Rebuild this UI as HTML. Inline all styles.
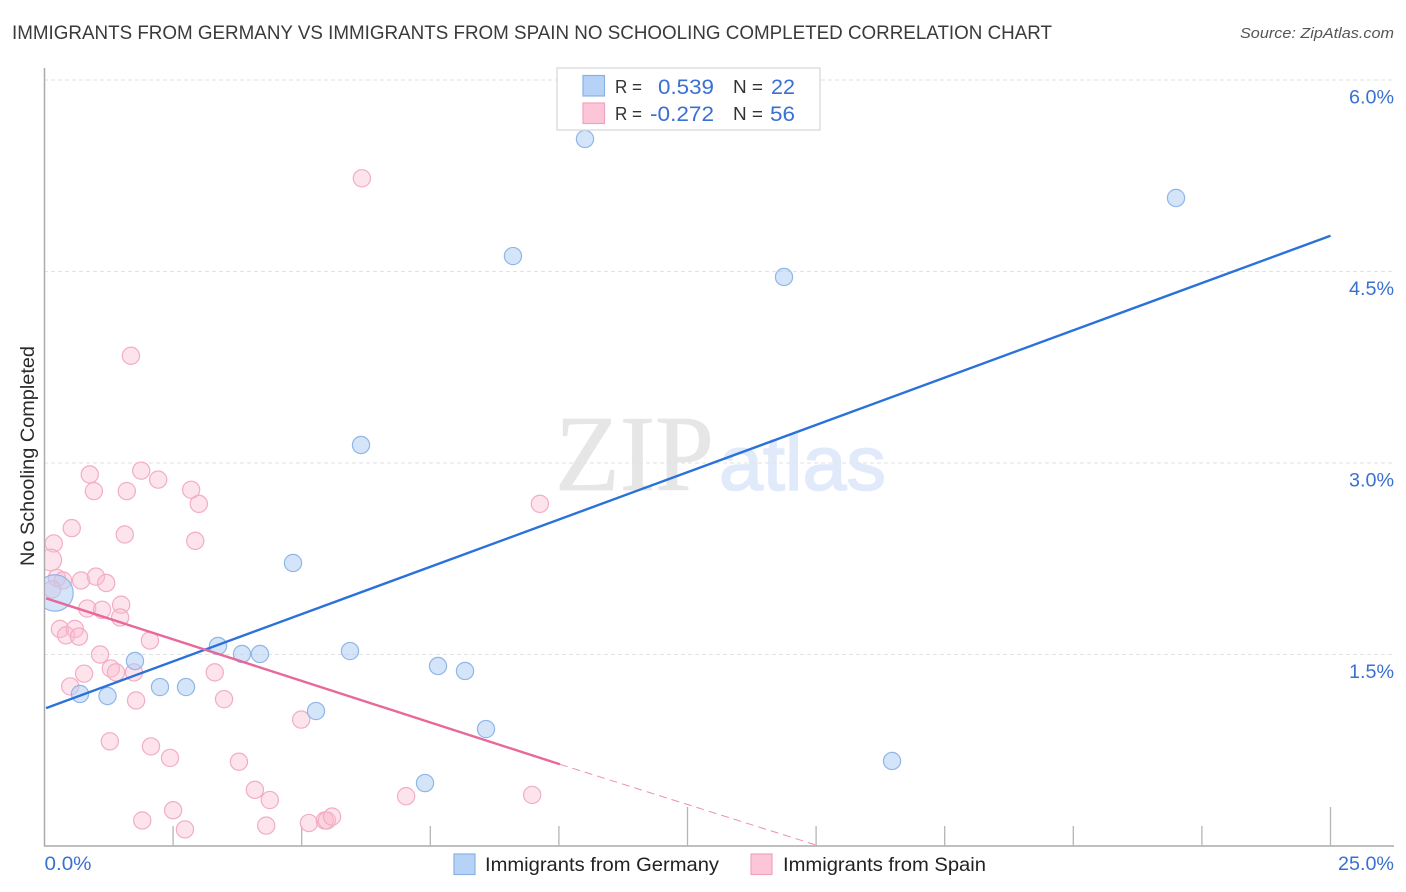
<!DOCTYPE html>
<html lang="en">
<head>
<meta charset="utf-8">
<title>Immigrants from Germany vs Immigrants from Spain No Schooling Completed Correlation Chart</title>
<style>
html,body{margin:0;padding:0;background:#fff;}
body{width:1406px;height:892px;overflow:hidden;}
svg{display:block;font-family:"Liberation Sans",sans-serif;}
</style>
</head>
<body>
<svg id="chart" width="1406" height="892" viewBox="0 0 1406 892" xmlns="http://www.w3.org/2000/svg">
  <defs>
    <clipPath id="plot-clip"><rect x="45" y="60" width="1349" height="786"></rect></clipPath>
  </defs>
  <rect x="0" y="0" width="1406" height="892" fill="#ffffff"></rect>
  <text x="12" y="39" font-size="19" fill="#3a3a3a" textLength="1040" lengthAdjust="spacingAndGlyphs">IMMIGRANTS FROM GERMANY VS IMMIGRANTS FROM SPAIN NO SCHOOLING COMPLETED CORRELATION CHART</text>
  <text x="1394" y="38" font-size="15" font-style="italic" fill="#555555" text-anchor="end" textLength="154" lengthAdjust="spacingAndGlyphs">Source: ZipAtlas.com</text>
  <g id="watermark">
    <text x="555" y="490" font-family="'Liberation Serif',serif" font-size="108" fill="#e6e6e6" stroke="#e6e6e6" stroke-width="0.8" textLength="159" lengthAdjust="spacingAndGlyphs">ZIP</text>
    <text x="719" y="490" font-size="77" fill="#e1eafa" stroke="#e1eafa" stroke-width="1.6" textLength="167" lengthAdjust="spacingAndGlyphs">atlas</text>
  </g>
  <g id="grid"></g>
  <g id="axes"></g>
  <g id="points-spain" clip-path="url(#plot-clip)"></g>
  <g id="points-germany" clip-path="url(#plot-clip)"></g>
  <g id="trends"></g>
  <g id="y-labels"></g>
  <g id="x-labels"></g>
  <text transform="translate(34,456) rotate(-90)" font-size="19" fill="#2a2a2a" text-anchor="middle" textLength="220" lengthAdjust="spacingAndGlyphs">No Schooling Completed</text>

  <g>
    <rect x="557" y="68" width="263" height="62" fill="#ffffff" stroke="#dddddd" stroke-width="1.5"></rect>
    <rect x="583" y="75.5" width="21.5" height="20.5" fill="#b6d3f7" stroke="#88b2e6" stroke-width="1.2"></rect>
    <rect x="583" y="103" width="21.5" height="20.5" fill="#fcc6d8" stroke="#f0a3bd" stroke-width="1.2"></rect>
    <text x="615" y="93" font-size="18.5" fill="#333333" textLength="27" lengthAdjust="spacingAndGlyphs">R =</text>
    <text x="658" y="94" font-size="21.5" fill="#3a70d2" textLength="56" lengthAdjust="spacingAndGlyphs">0.539</text>
    <text x="733" y="93" font-size="18.5" fill="#333333" textLength="30" lengthAdjust="spacingAndGlyphs">N =</text>
    <text x="771" y="94" font-size="21.5" fill="#3a70d2" textLength="24" lengthAdjust="spacingAndGlyphs">22</text>
    <text x="615" y="120" font-size="18.5" fill="#333333" textLength="27" lengthAdjust="spacingAndGlyphs">R =</text>
    <text x="650" y="121" font-size="21.5" fill="#3a70d2" textLength="64" lengthAdjust="spacingAndGlyphs">-0.272</text>
    <text x="733" y="120" font-size="18.5" fill="#333333" textLength="30" lengthAdjust="spacingAndGlyphs">N =</text>
    <text x="770" y="121" font-size="21.5" fill="#3a70d2" textLength="25" lengthAdjust="spacingAndGlyphs">56</text>
  </g>

  <g>
    <rect x="454" y="854" width="21" height="20.5" fill="#b6d3f7" stroke="#88b2e6" stroke-width="1.2"></rect>
    <text x="485" y="871" font-size="19.5" fill="#222222" textLength="234" lengthAdjust="spacingAndGlyphs">Immigrants from Germany</text>
    <rect x="751" y="854" width="21" height="20.5" fill="#fcc6d8" stroke="#f0a3bd" stroke-width="1.2"></rect>
    <text x="783" y="871" font-size="19.5" fill="#222222" textLength="203" lengthAdjust="spacingAndGlyphs">Immigrants from Spain</text>
  </g>
</svg>
<script>
// Chart data (percent values)
const germanyX = [0.204,0.690,1.225,1.759,2.245,2.751,3.373,3.839,4.189,4.831,5.278,5.939,6.153,7.650,8.175,8.583,7.397,9.107,10.507,14.376,16.476,21.997];
const germanyY = [1.982,1.191,1.175,1.449,1.245,1.245,1.567,1.504,1.504,2.217,1.057,1.527,3.141,1.410,1.371,0.916,0.493,4.621,5.538,4.457,0.666,5.076];
const germanyWeight = [4,1,1,1,1,1,1,1,1,1,1,1,1,1,1,1,1,1,1,1,1,1];
const spainX = [3.00,0.53,0.18,1.56,2.93,0.12,0.24,0.36,0.71,1.00,1.20,0.15,0.83,1.12,1.49,1.47,0.30,0.42,0.59,0.67,2.05,1.08,0.77,0.50,1.29,1.39,1.74,3.31,3.49,1.78,1.27,2.07,2.44,3.78,4.09,4.38,2.50,1.90,2.73,4.31,6.17,1.68,0.88,1.88,0.96,1.60,2.21,2.85,9.63,4.99,5.14,5.45,5.49,5.59,7.03,9.48];
const spainY = [2.68,2.49,2.37,2.44,2.39,2.24,2.10,2.08,2.08,2.11,2.06,2.01,1.86,1.85,1.89,1.79,1.70,1.65,1.70,1.64,1.61,1.50,1.35,1.25,1.39,1.36,1.36,1.36,1.15,1.14,0.82,0.78,0.69,0.66,0.44,0.36,0.28,0.20,0.13,0.16,5.23,3.84,2.91,2.94,2.78,2.78,2.87,2.79,2.68,0.99,0.18,0.20,0.20,0.23,0.39,0.40];
const spainWeight = [1,1,1,1,1,1.6,1,1,1,1,1,1,1,1,1,1,1,1,1,1,1,1,1,1,1,1,1,1,1,1,1,1,1,1,1,1,1,1,1,1,1,1,1,1,1,1,1,1,1,1,1,1,1,1,1,1];
const germanyTrendX = [0.03,25];
const germanyTrendY = [1.08,4.78];
const spainTrendX = [0.03,10.02];
const spainTrendY = [1.94,0.64];
const spainTrendDashX = [10.02,14.98];
const spainTrendDashY = [0.64,0.01];
const yTicks = [1.5,3.0,4.5,6.0];
const yTickLabels = ["1.5%","3.0%","4.5%","6.0%"];
const xTicks = [2.5,5,7.5,10,12.5,15,17.5,20,22.5,25];
const xMajorTicks = [12.5,25];
const xEndValues = [0,25];
const xEndLabels = ["0.0%","25.0%"];

// Axis functions
function xScale(v){ return 44.5 + v * 51.44; }
function yScale(v){ return 846 - v * 127.67; }

const NS = 'http://www.w3.org/2000/svg';
function make(tag, parent, attrs, txt){
  const el = document.createElementNS(NS, tag);
  for (const k in attrs) el.setAttribute(k, attrs[k]);
  if (txt !== undefined) el.textContent = txt;
  document.getElementById(parent).appendChild(el);
  return el;
}

// Gridlines and right-hand labels
yTicks.forEach(function(t, i){
  const line = make('line', 'grid', {x1:44, x2:1394, y1:yScale(t), y2:yScale(t), stroke:'#e2e2e2', 'stroke-width':1, 'stroke-dasharray':'4 3'});
  
  
  const label = make('text', 'y-labels', {x:1349, y:yScale(t)+23.5, 'font-size':19.5, fill:'#3a70d2', textLength:45, lengthAdjust:'spacingAndGlyphs'}, yTickLabels[i]);
  
  
});

// Axes
const yAxis = make('line', 'axes', {x1:44.5, x2:44.5, y1:68, y2:846.5, stroke:'#aaaaaa', 'stroke-width':1.5});


const xAxis = make('line', 'axes', {x1:44, x2:1394, y1:846, y2:846, stroke:'#aaaaaa', 'stroke-width':1.5});


xTicks.forEach(function(t){
  const major = xMajorTicks.indexOf(t) >= 0;
  const tick = make('line', 'axes', {x1:xScale(t), x2:xScale(t), y1:major ? 807 : 826, y2:846, stroke:'#b5b5b5', 'stroke-width':1.3});
  
  
});
xEndValues.forEach(function(v, i){
  const label = make('text', 'x-labels', {x: i === 0 ? xScale(v) : 1338, y:870, 'font-size':19.5, fill:'#3a70d2', textLength: i === 0 ? 47 : 56, lengthAdjust:'spacingAndGlyphs'}, xEndLabels[i]);
  
  
});

// Points
spainX.forEach(function(v, i){
  const c = make('circle', 'points-spain', {cx:xScale(v), cy:yScale(spainY[i]), r:8.6 * Math.sqrt(spainWeight[i]), fill:'#fbbcd0', 'fill-opacity':0.42, stroke:'#f2adc5', 'stroke-width':1.2});
  
  
});
germanyX.forEach(function(v, i){
  const c = make('circle', 'points-germany', {cx:xScale(v), cy:yScale(germanyY[i]), r:8.6 * Math.sqrt(germanyWeight[i]) + (germanyWeight[i] > 1 ? 1 : 0), fill:'#b0cff5', 'fill-opacity':0.55, stroke:'#90b6e8', 'stroke-width':1.2});
  
  
});

// Trend lines
const blueLine = make('line', 'trends', {x1:xScale(germanyTrendX[0]), y1:yScale(germanyTrendY[0]), x2:xScale(germanyTrendX[1]), y2:yScale(germanyTrendY[1]), stroke:'#2a72d9', 'stroke-width':2.4});


const pinkLine = make('line', 'trends', {x1:xScale(spainTrendX[0]), y1:yScale(spainTrendY[0]), x2:xScale(spainTrendX[1]), y2:yScale(spainTrendY[1]), stroke:'#e8689a', 'stroke-width':2.4});


const pinkDash = make('line', 'trends', {x1:xScale(spainTrendDashX[0]), y1:yScale(spainTrendDashY[0]), x2:xScale(spainTrendDashX[1]), y2:yScale(spainTrendDashY[1]), stroke:'#ee8fb2', 'stroke-width':1, 'stroke-dasharray':'8 5'});


</script>
</body>
</html>
